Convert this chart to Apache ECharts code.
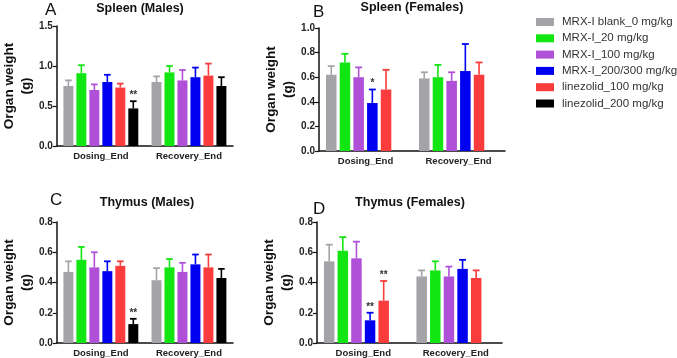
<!DOCTYPE html>
<html>
<head>
<meta charset="utf-8">
<script src="https://cdn.jsdelivr.net/npm/echarts@6/dist/echarts.min.js"></script>
<style>
  html, body { margin: 0; padding: 0; background: #ffffff; }
  #main { width: 677px; height: 358px; }
</style>
</head>
<body>
<div id="main"></div>
<script>
const categories = ["Dosing_End", "Recovery_End"];
const groupNames = [
  "MRX-I blank_0 mg/kg",
  "MRX-I_20 mg/kg",
  "MRX-I_100 mg/kg",
  "MRX-I_200/300 mg/kg",
  "linezolid_100 mg/kg",
  "linezolid_200 mg/kg"
];

// means and upper error-bar ends, one row per group: [Dosing_End, Recovery_End]
const spleenMalesMean = [[0.75, 0.80], [0.91, 0.92], [0.70, 0.82], [0.80, 0.86], [0.73, 0.88], [0.47, 0.75]];
const spleenMalesUpper = [[0.82, 0.87], [1.01, 1.00], [0.77, 0.95], [0.89, 0.98], [0.78, 1.03], [0.56, 0.86]];
const spleenMalesStars = [["", ""], ["", ""], ["", ""], ["", ""], ["", ""], ["**", ""]];

const spleenFemalesMean = [[0.62, 0.59], [0.72, 0.60], [0.60, 0.57], [0.39, 0.65], [0.50, 0.62], [null, null]];
const spleenFemalesUpper = [[0.69, 0.64], [0.79, 0.70], [0.68, 0.64], [0.50, 0.87], [0.66, 0.72], [null, null]];
const spleenFemalesStars = [["", ""], ["", ""], ["", ""], ["*", ""], ["", ""], ["", ""]];

const thymusMalesMean = [[0.47, 0.415], [0.55, 0.50], [0.50, 0.47], [0.475, 0.52], [0.51, 0.50], [0.125, 0.43]];
const thymusMalesUpper = [[0.54, 0.495], [0.635, 0.555], [0.60, 0.53], [0.54, 0.585], [0.54, 0.585], [0.16, 0.49]];
const thymusMalesStars = [["", ""], ["", ""], ["", ""], ["", ""], ["", ""], ["**", ""]];

const thymusFemalesMean = [[0.54, 0.44], [0.61, 0.48], [0.56, 0.44], [0.15, 0.49], [0.28, 0.43], [null, null]];
const thymusFemalesUpper = [[0.65, 0.48], [0.70, 0.54], [0.67, 0.505], [0.20, 0.55], [0.41, 0.48], [null, null]];
const thymusFemalesStars = [["", ""], ["", ""], ["", ""], ["**", ""], ["**", ""], ["", ""]];

const colors = ["#a3a3a8", "#12e612", "#b050d8", "#0000f0", "#fa3c3c", "#000000"];
const fontFamily = "Liberation Sans, Arial, sans-serif";
const CAT_GAP = 0.15;
const BAR_GAP = 0.3;

const panels = [
  { letter: "A", title: "Spleen (Males)", mean: spleenMalesMean, upper: spleenMalesUpper, stars: spleenMalesStars,
    max: 1.5, step: 0.5, grid: { left: 49, top: 26, width: 184, height: 120 },
    titleX: 140, titleY: 2, letterX: 45, letterY: 2 },
  { letter: "B", title: "Spleen (Females)", mean: spleenFemalesMean, upper: spleenFemalesUpper, stars: spleenFemalesStars,
    max: 1.0, step: 0.2, grid: { left: 319, top: 28, width: 186, height: 123 },
    titleX: 412, titleY: 1, letterX: 313, letterY: 4 },
  { letter: "C", title: "Thymus (Males)", mean: thymusMalesMean, upper: thymusMalesUpper, stars: thymusMalesStars,
    max: 0.8, step: 0.2, grid: { left: 49, top: 222, width: 184, height: 121 },
    titleX: 147, titleY: 196, letterX: 50, letterY: 192 },
  { letter: "D", title: "Thymus (Females)", mean: thymusFemalesMean, upper: thymusFemalesUpper, stars: thymusFemalesStars,
    max: 0.8, step: 0.2, grid: { left: 317, top: 222, width: 185, height: 121 },
    titleX: 410, titleY: 196, letterX: 313, letterY: 201 }
];

function errorRenderer(items) {
  return function (params, api) {
    const item = items[params.dataIndex];
    const cat = api.value(0), idx = api.value(1);
    const band = api.size([1, 0])[0];
    const remained = band * (1 - CAT_GAP);
    const n = groupNames.length;
    const w = remained / (n + (n - 1) * BAR_GAP);
    const x = api.coord([cat, 0])[0] - remained / 2 + idx * w * (1 + BAR_GAP) + w / 2;
    const y0 = api.coord([cat, api.value(2)])[1];
    const y1 = api.coord([cat, api.value(3)])[1];
    const half = w * 0.33;
    const col = colors[idx];
    const children = [
      { type: "line", shape: { x1: x, y1: y0, x2: x, y2: y1 }, style: { stroke: col, lineWidth: 1.6 } },
      { type: "line", shape: { x1: x - half, y1: y1, x2: x + half, y2: y1 }, style: { stroke: col, lineWidth: 1.8 } }
    ];
    if (item.star) {
      children.push({
        type: "text",
        style: { text: item.star, x: x, y: y1 - 1, align: "center", verticalAlign: "bottom",
          fill: "#333", font: "bold 10px " + fontFamily }
      });
    }
    return { type: "group", children: children };
  };
}

const chart = echarts.init(document.getElementById("main"));

const grids = [], xAxes = [], yAxes = [], series = [], titles = [];

panels.forEach(function (p, pi) {
  grids.push(Object.assign({ containLabel: false }, p.grid));
  titles.push({ text: p.title, left: p.titleX, top: p.titleY, textAlign: "center", padding: 0,
    textStyle: { fontFamily: fontFamily, fontSize: 12.5, fontWeight: "bold", color: "#111" } });
  titles.push({ text: p.letter, left: p.letterX, top: p.letterY, padding: 0,
    textStyle: { fontFamily: fontFamily, fontSize: 17, fontWeight: "normal", color: "#111" } });

  xAxes.push({
    type: "category", gridIndex: pi, data: categories,
    axisLine: { lineStyle: { color: "#111", width: 1.5 } },
    axisTick: { alignWithLabel: true, length: 4, lineStyle: { color: "#111", width: 1.2 } },
    axisLabel: { margin: 5, color: "#222", fontFamily: fontFamily, fontSize: 9.5, fontWeight: "bold" }
  });
  yAxes.push({
    type: "value", gridIndex: pi, min: 0, max: p.max, interval: p.step,
    name: "Organ weight\n(g)", nameLocation: "middle", nameGap: 20,
    nameTextStyle: { fontFamily: fontFamily, fontSize: 13.5, fontWeight: "bold", color: "#111", lineHeight: 17 },
    axisLine: { show: true, lineStyle: { color: "#111", width: 1.5 } },
    axisTick: { show: true, length: 4, lineStyle: { color: "#111", width: 1.2 } },
    splitLine: { show: false },
    axisLabel: { margin: 4, color: "#222", fontFamily: fontFamily, fontSize: 10, fontWeight: "bold",
      formatter: function (v) { return v.toFixed(1); } }
  });

  const items = [];
  groupNames.forEach(function (name, si) {
    series.push({
      type: "bar", name: name, xAxisIndex: pi, yAxisIndex: pi,
      data: p.mean[si], itemStyle: { color: colors[si] },
      barGap: (BAR_GAP * 100) + "%", barCategoryGap: (CAT_GAP * 100) + "%",
      silent: true
    });
    p.mean[si].forEach(function (m, ci) {
      if (m !== null) {
        items.push({ value: [ci, si, m, p.upper[si][ci]], star: p.stars[si][ci] });
      }
    });
  });
  series.push({
    type: "custom", xAxisIndex: pi, yAxisIndex: pi, z: 5, silent: true,
    encode: { x: 0, y: 3 },
    data: items.map(function (d) { return d.value; }),
    renderItem: errorRenderer(items)
  });
});

chart.setOption({
  backgroundColor: "#ffffff",
  animation: false,
  title: titles,
  legend: {
    orient: "vertical", left: 536, top: 14, padding: 0, selectedMode: false,
    icon: "rect", itemWidth: 18, itemHeight: 8, itemGap: 0.3,
    data: groupNames,
    textStyle: { fontFamily: fontFamily, fontSize: 11.5, color: "#333", lineHeight: 16, padding: [0, 0, 0, 3] }
  },
  grid: grids,
  xAxis: xAxes,
  yAxis: yAxes,
  series: series
});
</script>
</body>
</html>
